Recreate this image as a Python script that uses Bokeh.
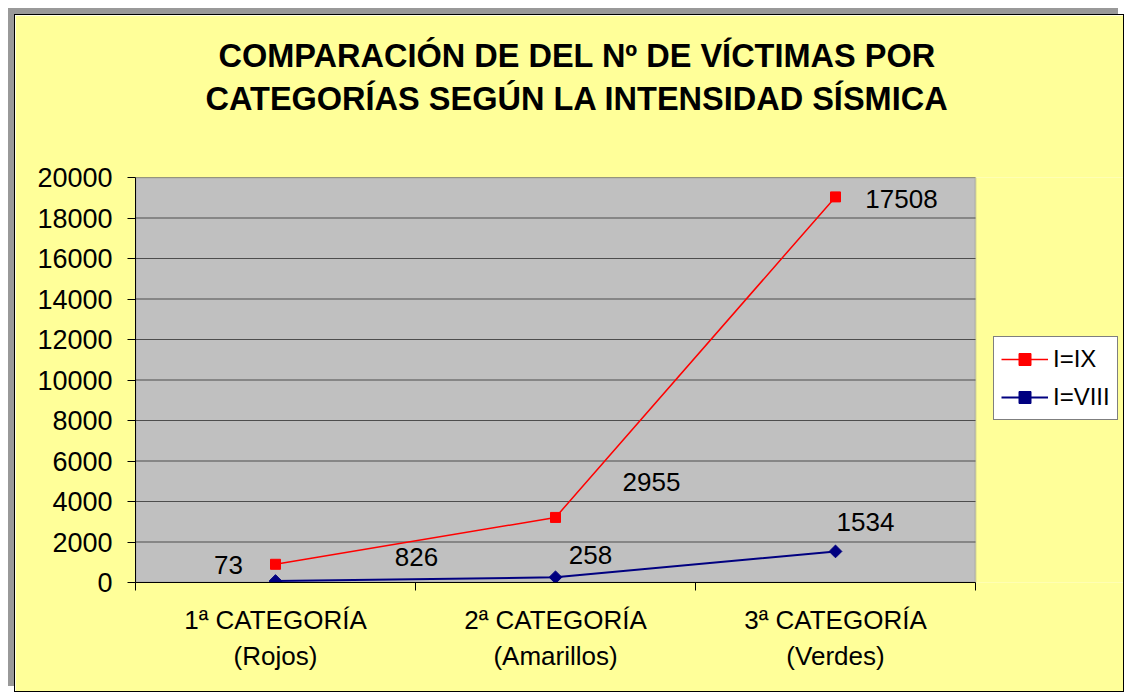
import math
from bokeh.plotting import figure
from bokeh.models import (FixedTicker, Legend, LegendItem, ColumnDataSource, Range1d, Title,
                          BoxAnnotation)
from bokeh.core.properties import value
from bokeh.embed import file_html
from bokeh.resources import INLINE

# ---- data ----
categories = ["1ª CATEGORÍA\n(Rojos)", "2ª CATEGORÍA\n(Amarillos)", "3ª CATEGORÍA\n(Verdes)"]
series_names = ["I=IX", "I=VIII"]
victims_ix = [826, 2955, 17508]     # I=IX (stacked on top of I=VIII)
victims_viii = [73, 258, 1534]      # I=VIII
y_ticks = [0, 2000, 4000, 6000, 8000, 10000, 12000, 14000, 16000, 18000, 20000]
title_lines = ["COMPARACIÓN DE DEL Nº DE VÍCTIMAS POR",
               "CATEGORÍAS SEGÚN LA INTENSIDAD SÍSMICA"]

# label placement (pixel offsets from the point, styling only)
off_viii_x = [-47, 35, 30]
off_viii_y = [-16, -22, -29]
off_ix_x = [141, 96, 66]
off_ix_y = [-7, -35, 2]

FONT = "Liberation Sans"
RED = "#FF0000"
NAVY = "#000080"
YELLOW = "#FFFF99"

# layout (pixels)
W, H = 1110, 678
LEFT, TOP, BOTTOM = 120, 162, 111
PLOT_W = 840                     # width of the grey plotting area
FRAME_W = W - LEFT               # frame reaches the right edge (legend lives inside it)

n = len(categories)
xs = [i + 0.5 for i in range(n)]
stack_viii = list(victims_viii)
stack_ix = [a + b for a, b in zip(victims_viii, victims_ix)]
y_max = y_ticks[-1]

p = figure(width=W, height=H, x_range=Range1d(0, n * FRAME_W / PLOT_W), y_range=Range1d(0, y_max),
           output_backend="svg", toolbar_location=None,
           min_border_left=LEFT, min_border_right=0, min_border_top=TOP, min_border_bottom=BOTTOM)

p.styles = {"border": "1px solid #000000", "box-shadow": "-6px -6px 0px 0px #999999"}
p.margin = (14, 0, 0, 14)

p.background_fill_color = YELLOW
p.border_fill_color = YELLOW
p.outline_line_color = None

# grey plotting area with its border
p.add_layout(BoxAnnotation(left=0, right=n, bottom=0, top=y_max, fill_color="#C0C0C0", fill_alpha=1,
                           line_color="#808080", line_width=2, level="underlay"))

def style_title(t):
    t.text_font = FONT
    t.text_font_size = "32.5px"
    t.text_font_style = "bold"
    t.text_color = "#000000"
    t.align = "left"
    t.vertical_align = "bottom"

# blank spacer between title and plotting area (nearest to frame)
spacer = Title(text=" ", text_font_size="1px", text_color=YELLOW, standoff=56)
p.add_layout(spacer, "above")

t2 = Title(text=title_lines[1])
style_title(t2)
t2.offset = 70
t2.standoff = 4
p.add_layout(t2, "above")

p.title.text = title_lines[0]
style_title(p.title)
p.title.offset = 83
p.title.standoff = 6

# y axis
p.yaxis.ticker = FixedTicker(ticks=y_ticks)
p.yaxis.axis_line_color = "#000000"
p.yaxis.major_tick_out = 8
p.yaxis.major_tick_in = 0
p.yaxis.major_tick_line_color = "#000000"
p.yaxis.minor_tick_line_color = None
p.yaxis.major_label_text_font = FONT
p.yaxis.major_label_text_font_size = "27px"
p.yaxis.major_label_text_color = "#000000"
p.yaxis.major_label_standoff = 15

# x axis
xax = p.below[0]
xax.bounds = (0, n)
xax.ticker = FixedTicker(ticks=xs, minor_ticks=[i for i in range(n + 1)])
xax.major_label_overrides = {x: c for x, c in zip(xs, categories)}
xax.axis_line_color = "#000000"
xax.major_tick_out = 0
xax.major_tick_in = 0
xax.minor_tick_out = 8
xax.minor_tick_in = 0
xax.minor_tick_line_color = "#000000"
xax.major_label_text_font = FONT
xax.major_label_text_font_size = "26px"
xax.major_label_text_color = "#000000"
xax.major_label_standoff = 14

p.xgrid.visible = False
p.ygrid.visible = False
# horizontal gridlines limited to the plotting area
p.segment(x0=[0] * len(y_ticks), x1=[n] * len(y_ticks), y0=y_ticks, y1=y_ticks,
          line_color="#4D4D4D", line_width=1)

src = ColumnDataSource(dict(x=xs, ix=stack_ix, viii=stack_viii,
                            lab_ix=[str(v) for v in victims_ix],
                            lab_viii=[str(v) for v in victims_viii],
                            oxi=off_ix_x, oyi=off_ix_y, oxv=off_viii_x, oyv=off_viii_y))

l_ix = p.line("x", "ix", source=src, line_color=RED, line_width=1.5)
m_ix = p.scatter("x", "ix", source=src, marker="square", size=10, fill_color=RED, line_color=RED)
l_viii = p.line("x", "viii", source=src, line_color=NAVY, line_width=2)
m_viii = p.scatter("x", "viii", source=src, marker="square", angle=math.pi / 4, size=9,
                   fill_color=NAVY, line_color=NAVY)

p.text("x", "ix", text="lab_ix", source=src, x_offset="oxi", y_offset="oyi",
       text_font=value(FONT), text_font_size="26px", text_align="center",
       text_baseline="middle", text_color="#000000")
p.text("x", "viii", text="lab_viii", source=src, x_offset="oxv", y_offset="oyv",
       text_font=value(FONT), text_font_size="26px", text_align="center",
       text_baseline="middle", text_color="#000000")

legend = Legend(items=[LegendItem(label=series_names[0], renderers=[l_ix, m_ix]),
                       LegendItem(label=series_names[1], renderers=[l_viii, m_viii])],
                location=(PLOT_W + 18, 162))
legend.border_line_color = "#000000"
legend.border_line_width = 1
legend.background_fill_color = "#FFFFFF"
legend.background_fill_alpha = 1
legend.label_text_font = FONT
legend.label_text_font_size = "24px"
legend.label_text_color = "#000000"
legend.glyph_width = 47
legend.glyph_height = 30
legend.label_height = 30
legend.label_standoff = 5
legend.spacing = 8
legend.padding = 7
legend.margin = 0
p.add_layout(legend)

open("out.html", "w").write(file_html(p, INLINE))
